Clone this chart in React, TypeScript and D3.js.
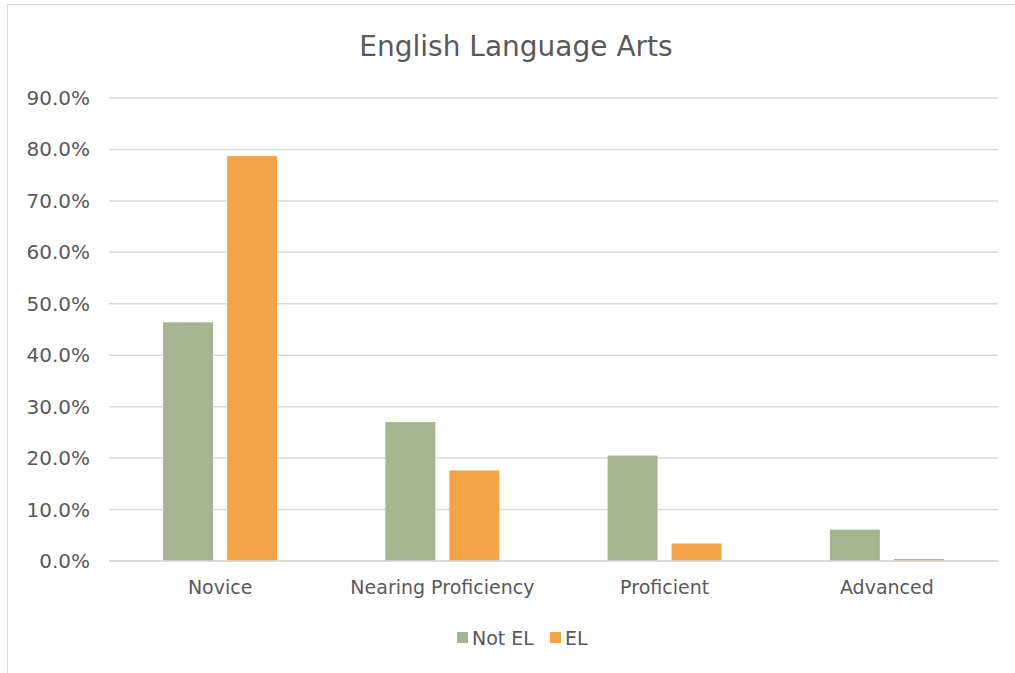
import { useEffect, useRef } from "react"
import * as d3 from "d3"

const categories = ["Novice", "Nearing Proficiency", "Proficient", "Advanced"]
const seriesNames = ["Not EL", "EL"]
const notEL = [46.4, 27.0, 20.5, 6.1]
const el = [78.7, 17.6, 3.4, 0.4]
const yTicks = [0, 10, 20, 30, 40, 50, 60, 70, 80, 90]
const colors = ["#a5b592", "#f3a447"]

const W = 1015
const H = 673
const FONT = "'DejaVu Sans', sans-serif"
const TEXT = "#595959"

export default function App() {
  const svgRef = useRef<SVGSVGElement>(null)

  useEffect(() => {
    if (!svgRef.current) return
    const svg = d3.select(svgRef.current)
    svg.selectAll("*").remove()

    const margin = { top: 98, right: 17, bottom: 112, left: 109 }
    const width = W - margin.left - margin.right
    const height = H - margin.top - margin.bottom

    // outer chart border
    svg.append("rect")
      .attr("x", 7.5).attr("y", 4.5)
      .attr("width", W + 20).attr("height", H + 20)
      .attr("fill", "white").attr("stroke", "#d9d9d9").attr("stroke-width", 1)

    svg.append("text")
      .attr("x", 516).attr("y", 56)
      .attr("text-anchor", "middle")
      .attr("fill", TEXT)
      .style("font-family", FONT)
      .style("font-size", "28px")
      .text("English Language Arts")

    const g = svg.append("g").attr("transform", `translate(${margin.left},${margin.top})`)

    const x0 = d3.scaleBand().domain(categories).range([0, width]).paddingInner(0).paddingOuter(0)
    const y = d3.scaleLinear().domain([0, 90]).range([height, 0])

    // gridlines
    g.append("g")
      .selectAll("line")
      .data(yTicks)
      .enter()
      .append("line")
      .attr("x1", 0).attr("x2", width)
      .attr("y1", (d) => y(d)).attr("y2", (d) => y(d))
      .attr("stroke", "#d9d9d9").attr("stroke-width", 1.5)

    g.append("g")
      .selectAll("text")
      .data(yTicks)
      .enter()
      .append("text")
      .attr("x", -19)
      .attr("y", (d) => y(d))
      .attr("dy", "0.35em")
      .attr("text-anchor", "end")
      .attr("fill", TEXT)
      .style("font-family", FONT)
      .style("font-size", "20px")
      .text((d) => d.toFixed(1) + "%")

    const barW = 50
    const gap = 14
    const x1 = d3.scaleOrdinal<string, number>().domain(seriesNames).range([-(gap / 2) - barW, gap / 2])
    const series = [notEL, el]

    series.forEach((vals, si) => {
      g.append("g")
        .selectAll("rect")
        .data(vals)
        .enter()
        .append("rect")
        .attr("x", (_, i) => (x0(categories[i]) as number) + x0.bandwidth() / 2 + x1(seriesNames[si]))
        .attr("y", (d) => y(d))
        .attr("width", barW)
        .attr("height", (d) => y(0) - y(d))
        .attr("fill", colors[si])
    })

    // x axis line over bars
    g.append("line")
      .attr("x1", 0).attr("x2", width)
      .attr("y1", y(0)).attr("y2", y(0))
      .attr("stroke", "#d9d9d9").attr("stroke-width", 1.5)

    g.append("g")
      .selectAll("text")
      .data(categories)
      .enter()
      .append("text")
      .attr("x", (d) => (x0(d) as number) + x0.bandwidth() / 2)
      .attr("y", y(0) + 33)
      .attr("text-anchor", "middle")
      .attr("fill", TEXT)
      .style("font-family", FONT)
      .style("font-size", "19px")
      .text((d) => d)

    // legend
    const legendItems = [
      { name: seriesNames[0], x: 457, color: colors[0] },
      { name: seriesNames[1], x: 550, color: colors[1] },
    ]
    const lg = svg.append("g")
    legendItems.forEach((it) => {
      lg.append("rect")
        .attr("x", it.x).attr("y", 632)
        .attr("width", 11).attr("height", 11)
        .attr("fill", it.color)
      lg.append("text")
        .attr("x", it.x + 15).attr("y", 645)
        .attr("fill", TEXT)
        .style("font-family", FONT)
        .style("font-size", "19px")
        .text(it.name)
    })
  }, [])

  return (
    <svg
      ref={svgRef}
      width={W}
      height={H}
      style={{ position: "absolute", left: 0, top: 0, background: "white" }}
    />
  )
}
